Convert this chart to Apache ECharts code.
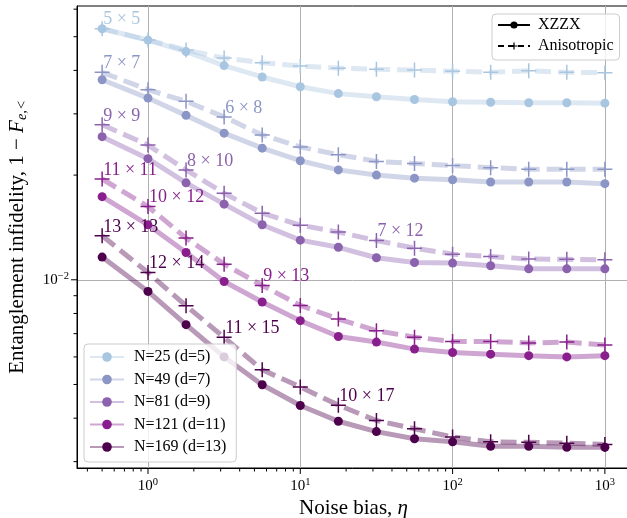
<!DOCTYPE html>
<html><head><meta charset="utf-8">
<script src="https://cdn.jsdelivr.net/npm/echarts@6/dist/echarts.min.js"></script>
<style>html,body{margin:0;padding:0;background:#fff}#c{width:627px;height:518px}</style>
</head><body><div id="c"></div>
<script>
// ---- data ----
const eta = [0.5, 1, 1.778, 3.162, 5.623, 10, 17.78, 31.62, 56.23, 100, 177.8, 316.2, 562.3, 1000];
const seriesNames = ['N=25 (d=5)', 'N=49 (d=7)', 'N=81 (d=9)', 'N=121 (d=11)', 'N=169 (d=13)'];
const xzzx25 = [0.0527, 0.0489, 0.0453, 0.0413, 0.0383, 0.0359, 0.0343, 0.0336, 0.0330, 0.0325, 0.0324, 0.0323, 0.0323, 0.0322];
const aniso25 = [0.0527, 0.0489, 0.0458, 0.0434, 0.0421, 0.0412, 0.0406, 0.0403, 0.0401, 0.0398, 0.0395, 0.0399, 0.0395, 0.0394];
const xzzx49 = [0.0376, 0.0333, 0.0297, 0.0264, 0.0239, 0.0220, 0.0207, 0.0200, 0.0196, 0.0194, 0.0191, 0.0191, 0.0191, 0.0189];
const aniso49 = [0.0395, 0.0352, 0.0326, 0.0294, 0.0261, 0.0241, 0.0229, 0.0219, 0.0216, 0.0213, 0.0210, 0.0208, 0.0208, 0.0208];
const xzzx81 = [0.0258, 0.0223, 0.0190, 0.0165, 0.0144, 0.0130, 0.0124, 0.01157, 0.01121, 0.01117, 0.01097, 0.01075, 0.01075, 0.01075];
const aniso81 = [0.0279, 0.0244, 0.0207, 0.01774, 0.01554, 0.01436, 0.01371, 0.01297, 0.01233, 0.01185, 0.01167, 0.01147, 0.01145, 0.01142];
const xzzx121 = [0.01734, 0.01439, 0.01198, 0.00989, 0.00863, 0.00763, 0.00687, 0.00662, 0.00632, 0.00618, 0.00611, 0.00605, 0.00600, 0.00605];
const aniso121 = [0.01949, 0.01624, 0.01318, 0.01109, 0.00963, 0.00844, 0.00771, 0.00714, 0.00684, 0.00665, 0.00665, 0.00658, 0.00662, 0.00649];
const xzzx169 = [0.01162, 0.00926, 0.00743, 0.00600, 0.00499, 0.00435, 0.00392, 0.00366, 0.00349, 0.00342, 0.00332, 0.00332, 0.00330, 0.00330];
const aniso169 = [0.01338, 0.01049, 0.00842, 0.00683, 0.00551, 0.00492, 0.00436, 0.00394, 0.00373, 0.00353, 0.00342, 0.00341, 0.00339, 0.00336];
// lattice-size annotations: [point index, text]
const labels25 = [[0, '5 × 5']];
const labels49 = [[0, '7 × 7'], [3, '6 × 8']];
const labels81 = [[0, '9 × 9'], [2, '8 × 10'], [7, '7 × 12']];
const labels121 = [[0, '11 × 11'], [1, '10 × 12'], [4, '9 × 13']];
const labels169 = [[0, '13 × 13'], [1, '12 × 14'], [3, '11 × 15'], [6, '10 × 17']];
// axis ranges and ticks
const X_MIN = 0.3419, X_MAX = 1462;
const Y_MIN = 0.002876, Y_MAX = 0.06127;
const xMajorTicks = [1, 10, 100, 1000];
const xMinorTicks = [0.4,0.5,0.6,0.7,0.8,0.9, 2,3,4,5,6,7,8,9, 20,30,40,50,60,70,80,90, 200,300,400,500,600,700,800,900];
const yMajorTicks = [0.01];
const yMinorTicks = [0.003,0.004,0.005,0.006,0.007,0.008,0.009, 0.02,0.03,0.04,0.05,0.06];

// ---- styling ----
const FONT = '"Liberation Serif", "DejaVu Serif", serif';
const colors = ['#a9c6e1', '#8c96c6', '#8b62ae', '#881f8c', '#4d004b'];
const PLUS = 'path://M-0.1,-1H0.1V-0.1H1V0.1H0.1V1H-0.1V0.1H-1V-0.1H-0.1Z';
const PLUS_BOLD = 'path://M-0.17,-1H0.17V-0.17H1V0.17H0.17V1H-0.17V0.17H-1V-0.17H-0.17Z';

const xzzxAll = [xzzx25, xzzx49, xzzx81, xzzx121, xzzx169];
const anisoAll = [aniso25, aniso49, aniso81, aniso121, aniso169];
const labelsAll = [labels25, labels49, labels81, labels121, labels169];

const series = [];
for (let i = 0; i < 5; i++) {
  const c = colors[i];
  series.push({
    name: seriesNames[i], type: 'line', silent: true,
    data: eta.map((x, k) => [x, xzzxAll[i][k]]),
    symbol: 'circle', symbolSize: 9, showAllSymbol: true,
    itemStyle: { color: c },
    lineStyle: { color: c, width: 5, opacity: 0.4 },
    z: 3
  });
  const lab = {};
  labelsAll[i].forEach(([k, t]) => lab[k] = t);
  series.push({
    name: 'aniso ' + seriesNames[i], type: 'line', silent: true,
    data: eta.map((x, k) => {
      const item = { value: [x, anisoAll[i][k]] };
      if (lab[k] !== undefined) {
        item.label = { show: true, formatter: lab[k], position: 'inside', align: 'left', verticalAlign: 'bottom',
          offset: [1, 0], color: c, fontFamily: FONT, fontSize: 18 };
      }
      return item;
    }),
    symbol: PLUS, symbolSize: 15, showAllSymbol: true,
    itemStyle: { color: c },
    lineStyle: { color: c, width: 5, opacity: 0.4, type: [16, 7] },
    label: { show: false },
    z: 3
  });
}
// dummy series for the style legend
series.push({ name: 'XZZX', type: 'line', data: [], color: '#000', symbol: 'circle',
  itemStyle: { color: '#000' }, lineStyle: { color: '#000', width: 2 } });
series.push({ name: 'Anisotropic', type: 'line', data: [], color: '#000', symbol: PLUS_BOLD,
  itemStyle: { color: '#000' }, lineStyle: { color: '#000', width: 2, type: [6, 4] } });

// ticks drawn through the axis scales
function tickSeries(values, dim, len) {
  return {
    type: 'custom', silent: true, clip: false, z: 6, animation: false,
    data: values.map(v => dim === 'x' ? [v, Y_MIN] : [X_MIN, v]),
    renderItem: (params, api) => {
      const p = api.coord([api.value(0), api.value(1)]);
      const shape = dim === 'x'
        ? { x1: p[0], y1: p[1], x2: p[0], y2: p[1] + len }
        : { x1: p[0] - len, y1: p[1], x2: p[0], y2: p[1] };
      return { type: 'line', shape, style: { stroke: '#000', lineWidth: 1 } };
    }
  };
}
series.push(tickSeries(xMajorTicks, 'x', 6));
series.push(tickSeries(xMinorTicks, 'x', 3.5));
series.push(tickSeries(yMajorTicks, 'y', 6));
series.push(tickSeries(yMinorTicks, 'y', 3.5));

function powLabel(v) {
  const e = Math.log10(v);
  const r = Math.round(e);
  if (Math.abs(e - r) > 1e-6) return '';
  return '{b|10}{s|' + (r < 0 ? '−' + (-r) : r) + '}';
}
const tickRich = {
  b: { fontFamily: FONT, fontSize: 15, color: '#000', lineHeight: 18 },
  s: { fontFamily: FONT, fontSize: 10.5, color: '#000', verticalAlign: 'top', lineHeight: 10 }
};

const option = {
  animation: false,
  backgroundColor: '#fff',
  grid: { left: 77, top: 6, width: 553, bottom: 50, show: true, borderColor: '#000', borderWidth: 1,
    backgroundColor: 'transparent', containLabel: false, outerBoundsMode: 'none' },
  xAxis: {
    type: 'log', logBase: 10, min: X_MIN, max: X_MAX,
    axisLine: { onZero: false, lineStyle: { color: '#000', width: 1 } },
    axisTick: { show: false },
    axisLabel: { formatter: powLabel, margin: 9, rich: tickRich },
    splitLine: { show: true, showMinLine: false, showMaxLine: false, lineStyle: { color: '#b0b0b0', width: 1 } },
    name: 'Noise bias, {i|η}', nameLocation: 'middle', nameGap: 26,
    nameTextStyle: { fontFamily: FONT, fontSize: 21, color: '#000',
      rich: { i: { fontFamily: FONT, fontSize: 21, fontStyle: 'italic', color: '#000' } } }
  },
  yAxis: {
    type: 'log', logBase: 10, min: Y_MIN, max: Y_MAX,
    axisLine: { onZero: false, lineStyle: { color: '#000', width: 1 } },
    axisTick: { show: false },
    axisLabel: { formatter: powLabel, margin: 8, rich: tickRich },
    splitLine: { show: true, showMinLine: false, showMaxLine: false, lineStyle: { color: '#b0b0b0', width: 1 } },
    name: 'Entanglement infidelity, 1 − {i|F}{sub|e,<}', nameLocation: 'middle', nameGap: 47,
    nameTextStyle: { fontFamily: FONT, fontSize: 21, color: '#000',
      rich: {
        i: { fontFamily: FONT, fontSize: 21, fontStyle: 'italic', color: '#000', lineHeight: 25 },
        sub: { fontFamily: FONT, fontSize: 14.5, fontStyle: 'italic', color: '#000', verticalAlign: 'bottom', lineHeight: 25 }
      } }
  },
  legend: [
    {
      data: ['XZZX', 'Anisotropic'], orient: 'vertical', left: 492, top: 14,
      itemWidth: 32, itemHeight: 9, itemGap: 5, padding: [3, 6, 6, 5],
      backgroundColor: 'rgba(255,255,255,0.8)', borderColor: '#cccccc', borderWidth: 1, borderRadius: 4,
      selectedMode: false,
      textStyle: { fontFamily: FONT, fontSize: 16, color: '#000', lineHeight: 16, padding: [0, 0, 0, 3] }
    },
    {
      data: seriesNames, orient: 'vertical', left: 84, top: 344,
      itemWidth: 34, itemHeight: 12, itemGap: 6.5, padding: [5, 10, 7, 5],
      backgroundColor: 'rgba(255,255,255,0.8)', borderColor: '#cccccc', borderWidth: 1, borderRadius: 4,
      selectedMode: false,
      textStyle: { fontFamily: FONT, fontSize: 16, color: '#000', lineHeight: 16, padding: [0, 0, 0, 5] }
    }
  ],
  series
};
const chart = echarts.init(document.getElementById('c'), null, { renderer: 'canvas' });
chart.setOption(option);
</script>
</body></html>
